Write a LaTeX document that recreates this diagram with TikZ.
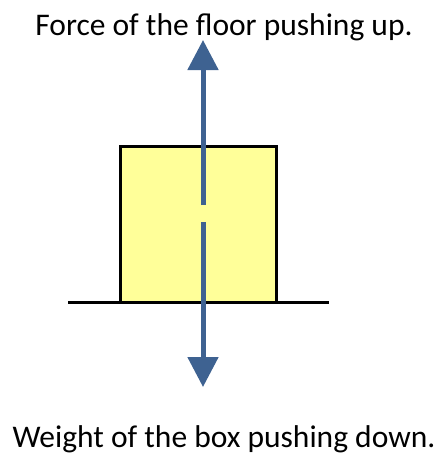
\documentclass[tikz,border=0pt]{standalone}
\usepackage{fontspec}
\setmainfont{Carlito}
\usetikzlibrary{arrows.meta}
\definecolor{forceblue}{RGB}{62,98,145}
\definecolor{boxyellow}{RGB}{255,255,153}

\begin{document}
\begin{tikzpicture}[x=1pt,y=-1pt,
    force/.style={forceblue, line width=5pt, -{Triangle[width=30pt,length=30pt]}},
    caption/.style={font=\fontsize{31.5}{36}\selectfont, inner sep=0pt, anchor=base}]
    \useasboundingbox (0,0) rectangle (443,456);

    \coordinate (floorL) at (68,302);
    \coordinate (floorR) at (329,302);
    \draw[black, line width=3pt] (floorL) -- (floorR);

    \node[draw=black, line width=3pt, fill=boxyellow, inner sep=0pt, outer sep=0pt,
          minimum width=156pt, minimum height=156pt, anchor=south west] (box) at (120,302) {};

    \coordinate (uptail) at (203,205);
    \coordinate (uptip) at (203,40);
    \coordinate (downtail) at (203,222);
    \coordinate (downtip) at (203,387);
    \draw[force] (uptail) -- (uptip);
    \draw[force] (downtail) -- (downtip);

    \node[caption] (uplabel) at (224,35) {Force of the floor pushing up.};
    \node[caption] (downlabel) at (224,447) {Weight of the box pushing down.};
\end{tikzpicture}
\end{document}
